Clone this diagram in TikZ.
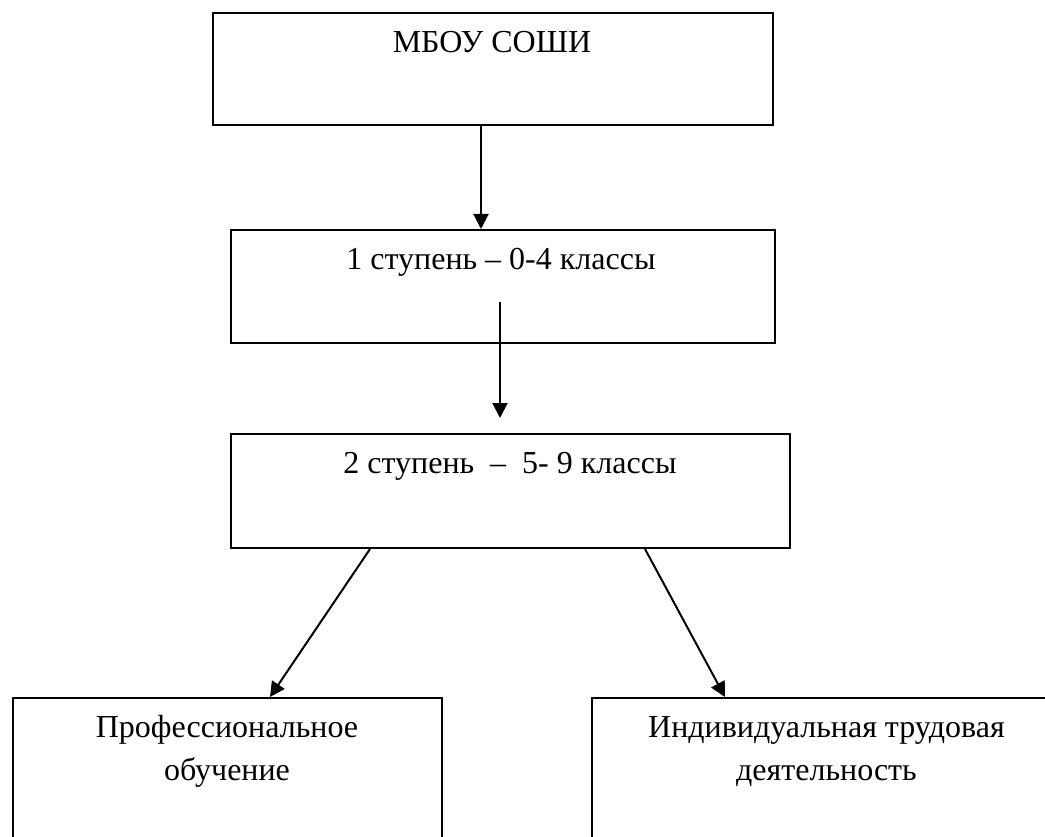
\documentclass[tikz,border=0pt]{standalone}
\usepackage{fontspec}
\setmainfont{Liberation Serif}
\usetikzlibrary{arrows.meta}
\begin{document}
\begin{tikzpicture}[x=1pt,y=-1pt,
        box/.style={draw,line width=2pt,anchor=north west,inner sep=0pt},
        lbl/.style={font=\fontsize{32}{43}\selectfont,anchor=base,align=center,inner sep=0pt},
        arr/.style={line width=2pt,-{Triangle[length=15pt,width=15pt]}}]
    \clip (0,0) rectangle (1045,837);
    \node[box,minimum width=560.5pt,minimum height=112pt] (mbou) at (211.5,12) {};
    \node[box,minimum width=544.5pt,minimum height=113pt] (st1) at (229.5,229) {};
    \node[box,minimum width=559.5pt,minimum height=114pt] (st2) at (229.5,433) {};
    \node[box,minimum width=429pt,minimum height=170pt] (prof) at (12,697) {};
    \node[box,minimum width=471pt,minimum height=170pt] (ind) at (591,697) {};

    \node[lbl] (tmbou) at (492,53) {МБОУ СОШИ};
    \node[lbl] (tst1) at (501,270) {1 ступень – 0-4 классы};
    \node[lbl] (tst2) at (510,473) {2 ступень~ –~ 5- 9 классы};
    % base of a two-line node is its last line
    \node[lbl] (tprof) at (227,780) {Профессиональное\\обучение};
    \node[lbl] (tind) at (826.5,780) {Индивидуальная трудовая\\деятельность};

    \coordinate (a1) at ([xshift=-11.75pt]mbou.south);
    \draw[arr] (a1) -- (a1 |- st1.north);
    \coordinate (a2) at (500,302);
    \coordinate (a2e) at (500,418);
    \draw[arr] (a2) -- (a2e);
    \draw[arr] ([xshift=140.5pt]st2.south west) -- ([xshift=258pt]prof.north west);
    \draw[arr] ([xshift=415.5pt]st2.south west) -- ([xshift=134pt]ind.north west);
\end{tikzpicture}
\end{document}
